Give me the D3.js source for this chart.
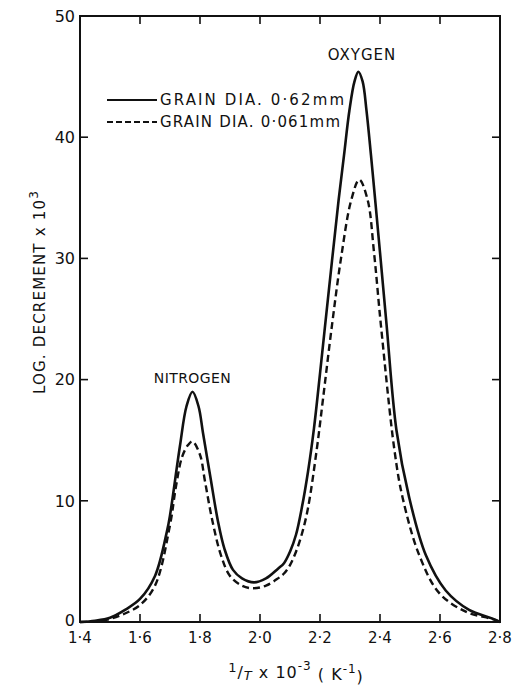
<!DOCTYPE html>
<html>
<head>
<meta charset="utf-8">
<script src="https://cdn.jsdelivr.net/npm/d3@7"></script>
<style>
  body { margin: 0; background: #fff; }
  text { font-family: "DejaVu Sans", sans-serif; fill: #111; }
</style>
</head>
<body>
<div id="chart"></div>
<script>
// reciprocal temperature (1/T x 10^-3) and log decrement x 10^3
const coarseX = [1.40, 1.45, 1.50, 1.55, 1.60, 1.65, 1.69, 1.70, 1.733, 1.755, 1.775, 1.795, 1.81, 1.835, 1.86, 1.882, 1.91, 1.94, 1.98, 2.02, 2.06, 2.08, 2.10, 2.12, 2.14, 2.16, 2.18, 2.20, 2.215, 2.24, 2.262, 2.28, 2.298, 2.315, 2.328, 2.342, 2.355, 2.37, 2.384, 2.40, 2.422, 2.455, 2.497, 2.553, 2.619, 2.697, 2.773, 2.80];
const coarseY = [0, 0.1, 0.35, 1.0, 1.9, 3.8, 7.5, 8.8, 14.5, 17.8, 19.0, 17.8, 15.6, 11.9, 8.3, 6.0, 4.3, 3.6, 3.27, 3.6, 4.4, 4.85, 5.8, 7.2, 9.5, 12.4, 16.0, 20.5, 24.0, 29.8, 34.8, 38.5, 42.2, 44.6, 45.4, 44.6, 42.2, 38.5, 34.8, 30.5, 24.5, 15.8, 10.3, 5.5, 2.6, 1.0, 0.3, 0];

const fineX = [1.40, 1.45, 1.50, 1.55, 1.60, 1.65, 1.70, 1.72, 1.74, 1.76, 1.775, 1.80, 1.816, 1.84, 1.87, 1.90, 1.94, 1.976, 2.02, 2.06, 2.08, 2.10, 2.12, 2.14, 2.16, 2.189, 2.21, 2.24, 2.27, 2.304, 2.331, 2.359, 2.38, 2.403, 2.448, 2.475, 2.531, 2.597, 2.686, 2.773, 2.80];
const fineY = [0, 0.05, 0.25, 0.7, 1.4, 3.0, 8.0, 11.2, 13.6, 14.6, 14.9, 13.8, 11.7, 8.5, 5.5, 3.8, 3.0, 2.78, 3.0, 3.6, 4.0, 4.7, 5.8, 7.3, 9.4, 14.2, 18.4, 24.5, 30.0, 34.8, 36.5, 34.8, 30.5, 24.5, 14.2, 10.3, 5.5, 2.4, 0.85, 0.25, 0];

const xTicks = [1.4, 1.6, 1.8, 2.0, 2.2, 2.4, 2.6, 2.8];
const yTicks = [0, 10, 20, 30, 40, 50];

const legendLabels = ["GRAIN DIA.  0\u00b762mm", "GRAIN DIA. 0\u00b7061mm"];

const width = 519, height = 687;
const margin = { top: 16, right: 19, bottom: 65, left: 80 };

const svg = d3.select("#chart").append("svg")
  .attr("width", width)
  .attr("height", height);

const x = d3.scaleLinear().domain([1.4, 2.8]).range([margin.left, width - margin.right]);
const y = d3.scaleLinear().domain([0, 50]).range([height - margin.bottom, margin.top]);

const fmt = (d) => d3.format(".1f")(d).replace(".", "\u00b7");

// frame
svg.append("rect")
  .attr("x", x(1.4)).attr("y", y(50))
  .attr("width", x(2.8) - x(1.4)).attr("height", y(0) - y(50))
  .attr("fill", "none").attr("stroke", "#111").attr("stroke-width", 2);

// inward ticks on all four sides
const tickLen = 8;
const tk = svg.append("g").attr("stroke", "#111").attr("stroke-width", 1.6);
tk.selectAll(".xb").data(xTicks.slice(1, -1)).join("line")
  .attr("x1", (d) => x(d)).attr("x2", (d) => x(d))
  .attr("y1", y(0)).attr("y2", y(0) - tickLen);
tk.selectAll(".xt").data(xTicks.slice(1, -1)).join("line")
  .attr("x1", (d) => x(d)).attr("x2", (d) => x(d))
  .attr("y1", y(50)).attr("y2", y(50) + tickLen);
tk.selectAll(".yl").data(yTicks.slice(1, -1)).join("line")
  .attr("x1", x(1.4)).attr("x2", x(1.4) + tickLen)
  .attr("y1", (d) => y(d)).attr("y2", (d) => y(d));
tk.selectAll(".yr").data(yTicks.slice(1, -1)).join("line")
  .attr("x1", x(2.8)).attr("x2", x(2.8) - tickLen)
  .attr("y1", (d) => y(d)).attr("y2", (d) => y(d));

// tick labels
svg.append("g").selectAll("text").data(xTicks).join("text")
  .attr("x", (d) => x(d)).attr("y", y(0) + 21)
  .attr("text-anchor", "middle")
  .style("font-size", "15px")
  .text(fmt);

svg.append("g").selectAll("text").data(yTicks).join("text")
  .attr("x", x(1.4) - 5).attr("y", (d) => y(d) - (d === 0 ? 2 : 0))
  .attr("dy", "0.36em")
  .attr("text-anchor", "end")
  .style("font-size", "16px")
  .text((d) => d);

// axis titles
const yl = svg.append("text")
  .attr("transform", "translate(45,292) rotate(-90)")
  .attr("text-anchor", "middle")
  .style("font-size", "15px")
  .style("letter-spacing", "1.2px");
yl.append("tspan").text("LOG. DECREMENT  x  10");
yl.append("tspan").attr("dy", "-0.6em").style("font-size", "12px").text("3");

const xl = svg.append("text")
  .attr("x", 296).attr("y", 677)
  .attr("text-anchor", "middle")
  .style("font-size", "16px")
  .style("letter-spacing", "1px");
xl.append("tspan").attr("dy", "-0.35em").style("font-size", "13px").text("1");
xl.append("tspan").attr("dy", "0.35em").text("/");
xl.append("tspan").attr("font-style", "italic").attr("dy", "0.15em").style("font-size", "13px").text("T");
xl.append("tspan").attr("dy", "-0.15em").text(" x 10");
xl.append("tspan").attr("dy", "-0.6em").style("font-size", "12px").text("-3");
xl.append("tspan").attr("dy", "0.6em").text(" (   K");
xl.append("tspan").attr("dy", "-0.6em").style("font-size", "12px").text("-1");
xl.append("tspan").attr("dy", "0.6em").text(")");

// curves
const line = d3.line()
  .x((d) => x(d[0]))
  .y((d) => y(d[1]))
  .curve(d3.curveCatmullRom.alpha(0.5));

svg.append("path")
  .datum(fineX.map((v, i) => [v, fineY[i]]))
  .attr("fill", "none").attr("stroke", "#111")
  .attr("stroke-width", 2.4)
  .attr("stroke-dasharray", "7,4")
  .attr("d", line);

svg.append("path")
  .datum(coarseX.map((v, i) => [v, coarseY[i]]))
  .attr("fill", "none").attr("stroke", "#111")
  .attr("stroke-width", 2.6)
  .attr("d", line);

// peak labels
svg.append("text").attr("x", x(1.775)).attr("y", y(19.0) - 9)
  .attr("text-anchor", "middle").style("font-size", "14px")
  .style("letter-spacing", "0.4px").text("NITROGEN");
svg.append("text").attr("x", x(2.33) + 3).attr("y", y(45.4) - 12)
  .attr("text-anchor", "middle").style("font-size", "15px")
  .style("letter-spacing", "1px").text("OXYGEN");

// legend
const lg = svg.append("g");
[0, 1].forEach((i) => {
  const ly = 100 + i * 22;
  lg.append("line")
    .attr("x1", 107).attr("x2", 157)
    .attr("y1", ly).attr("y2", ly)
    .attr("stroke", "#111").attr("stroke-width", 2.2)
    .attr("stroke-dasharray", i ? "6,3" : null);
  lg.append("text").attr("x", 160).attr("y", ly + 5)
    .style("font-size", "15px")
    .attr("textLength", i ? 180 : 184)
    .attr("lengthAdjust", "spacing")
    .text(legendLabels[i]);
});
</script>
</body>
</html>
